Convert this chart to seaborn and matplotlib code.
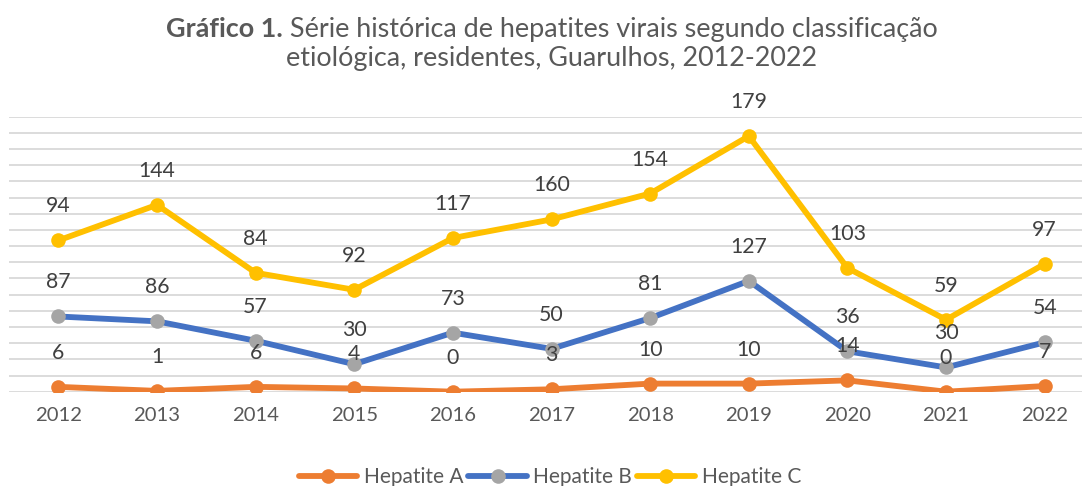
import numpy as np
import matplotlib
matplotlib.use("Agg")
import matplotlib.pyplot as plt
import seaborn as sns
from matplotlib.lines import Line2D

years = ["2012", "2013", "2014", "2015", "2016", "2017", "2018", "2019", "2020", "2021", "2022"]
hep_a = [6, 1, 6, 4, 0, 3, 10, 10, 14, 0, 7]
hep_b = [87, 86, 57, 30, 73, 50, 81, 127, 36, 30, 54]
hep_c = [94, 144, 84, 92, 117, 160, 154, 179, 103, 59, 97]
series_names = ["Hepatite A", "Hepatite B", "Hepatite C"]

sns.set_style("white")
FONT = ["Lato", "DejaVu Sans"]
plt.rcParams["font.family"] = FONT

W, H = 1082, 486
fig = plt.figure(figsize=(W / 100, H / 100), dpi=100)
x0, x1 = 9, 1094
ytop, ybot = 116.7, 391.7
ax = fig.add_axes([x0 / W, 1 - ybot / H, (x1 - x0) / W, (ybot - ytop) / H])

x = np.arange(len(years))
stack_a = np.array(hep_a)
stack_b = stack_a + np.array(hep_b)
stack_c = stack_b + np.array(hep_c)

line_col = ["#ED7D31", "#4472C4", "#FFC000"]
mark_col = ["#ED7D31", "#A5A5A5", "#FFC000"]
stacks = [stack_a, stack_b, stack_c]
raw = [hep_a, hep_b, hep_c]

for i in range(3):
    sns.lineplot(x=x, y=stacks[i], ax=ax, color=line_col[i], linewidth=4.2,
                 marker="o", markersize=10.5, markerfacecolor=mark_col[i],
                 markeredgecolor=mark_col[i], markeredgewidth=0, zorder=3 + i)
    for xi, yi, v in zip(x, stacks[i], raw[i]):
        ax.annotate(str(v), (xi, yi), xytext=(0, 24.5), textcoords="offset points",
                    ha="center", va="center", fontsize=15.3, color="#404040", zorder=10)

ax.set_xlim(-0.5, 10.5)
ax.set_ylim(0, 340)
ax.set_yticks(np.arange(0, 341, 20))
ax.set_yticklabels([])
ax.yaxis.grid(True, color="#D9D9D9", linewidth=1.3)
ax.set_axisbelow(True)
ax.set_xticks(x)
ax.set_xticklabels(years, fontsize=14.6, color="#595959")
ax.tick_params(axis="x", length=0, pad=11)
ax.tick_params(axis="y", length=0)
for s in ax.spines.values():
    s.set_visible(False)
ax.set_xlabel("")
ax.set_ylabel("")

# Title
renderer = fig.canvas.get_renderer()
tcol = "#595959"
tsize = 17
cx = 552
t_bold = fig.text(0, 1 - 37 / H, "Gráfico 1.", fontsize=tsize, fontweight="bold", color=tcol,
                  ha="left", va="baseline")
t_norm = fig.text(0, 1 - 37 / H, " Série histórica de hepatites virais segundo classificação",
                  fontsize=tsize, color=tcol, ha="left", va="baseline")
wb = t_bold.get_window_extent(renderer).width
wn = t_norm.get_window_extent(renderer).width
scale = 775 / (wb + wn)
tsize = tsize * scale
t_bold.set_fontsize(tsize)
t_norm.set_fontsize(tsize)
wb = t_bold.get_window_extent(renderer).width
wn = t_norm.get_window_extent(renderer).width
start = cx - (wb + wn) / 2
t_bold.set_x(start / W)
t_norm.set_x((start + wb) / W)
fig.text(cx / W, 1 - 66 / H, "etiológica, residentes, Guarulhos, 2012-2022", fontsize=tsize,
         color=tcol, ha="center", va="baseline")

handles = [Line2D([0], [0], color=line_col[i], linewidth=4.2, marker="o", markersize=10.5,
                  markerfacecolor=mark_col[i], markeredgewidth=0) for i in range(3)]
fig.legend(handles, series_names, loc="center", bbox_to_anchor=(550 / W, 1 - 477 / H),
           ncol=3, frameon=False, fontsize=15, labelcolor="#595959", handlelength=2.8,
           handletextpad=0.3, columnspacing=0.25)

fig.savefig("out.png", dpi=100)
